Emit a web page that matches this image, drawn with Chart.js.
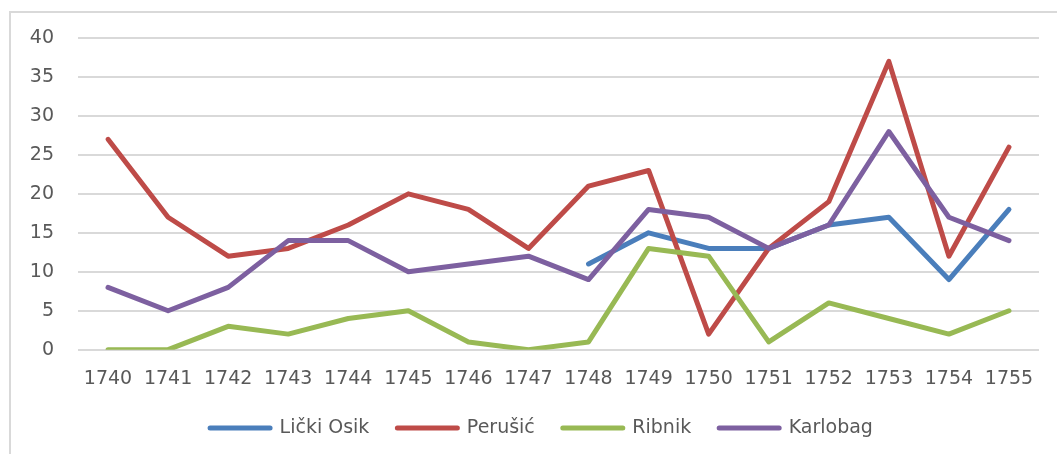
<!DOCTYPE html>
<html>
<head>
<meta charset="utf-8">
<script src="https://cdn.jsdelivr.net/npm/chart.js@4/dist/chart.umd.min.js"></script>
<style>
  html, body { margin: 0; padding: 0; background: #ffffff; }
  #wrap { width: 1057px; height: 454px; position: relative; }
</style>
</head>
<body>
<div id="wrap"><canvas id="c" width="1057" height="454"></canvas></div>
<script>
const years = ['1740','1741','1742','1743','1744','1745','1746','1747','1748','1749','1750','1751','1752','1753','1754','1755'];
const seriesNames = ['Lički Osik', 'Perušić', 'Ribnik', 'Karlobag'];
const lickiOsik = [null, null, null, null, null, null, null, null, 11, 15, 13, 13, 16, 17, 9, 18];
const perusic   = [27, 17, 12, 13, 16, 20, 18, 13, 21, 23, 2, 13, 19, 37, 12, 26];
const ribnik    = [0, 0, 3, 2, 4, 5, 1, 0, 1, 13, 12, 1, 6, 4, 2, 5];
const karlobag  = [8, 5, 8, 14, 14, 10, 11, 12, 9, 18, 17, 13, 16, 28, 17, 14];
const yTicks = [0, 5, 10, 15, 20, 25, 30, 35, 40];

const colors = ['#4a7ebb', '#be4b48', '#98b954', '#7d60a0'];
const FONT = 'DejaVu Sans';
const TEXT = '#595959';

const frame = {
  id: 'frame',
  beforeDraw(chart) {
    const ctx = chart.ctx;
    ctx.save();
    ctx.strokeStyle = '#d9d9d9';
    ctx.lineWidth = 2;
    ctx.beginPath();
    ctx.moveTo(10, 454);
    ctx.lineTo(10, 12);
    ctx.lineTo(1057, 12);
    ctx.stroke();
    ctx.restore();
  }
};

const legendShift = {
  id: 'legendShift',
  afterLayout(chart) {
    const lg = chart.legend;
    if (!lg) return;
    lg.top -= 18; lg.bottom -= 18;
    lg.left += 22; lg.right += 22;
  }
};

function ds(i, data) {
  return {
    label: seriesNames[i],
    data: data,
    borderColor: colors[i],
    backgroundColor: colors[i],
    borderWidth: 5,
    borderCapStyle: 'round',
    borderJoinStyle: 'round',
    pointRadius: 0,
    pointHoverRadius: 0,
    tension: 0,
    spanGaps: false,
    fill: false,
    order: 4 - i
  };
}

new Chart(document.getElementById('c'), {
  type: 'line',
  data: {
    labels: years,
    datasets: [ds(0, lickiOsik), ds(1, perusic), ds(2, ribnik), ds(3, karlobag)]
  },
  options: {
    responsive: false,
    animation: false,
    devicePixelRatio: 1,
    layout: { padding: { left: 0, right: 18, top: 38, bottom: -11.5 } },
    plugins: {
      tooltip: { enabled: false },
      legend: {
        position: 'bottom',
        labels: {
          usePointStyle: true,
          pointStyle: 'line',
          pointStyleWidth: 60,
          boxHeight: 5,
          padding: 28,
          color: TEXT,
          font: { family: FONT, size: 19 },
          sort: (a, b) => a.datasetIndex - b.datasetIndex,
          generateLabels(chart) {
            return chart.data.datasets.map((d, i) => ({
              text: d.label,
              fillStyle: d.borderColor,
              strokeStyle: d.borderColor,
              lineWidth: 5,
              lineCap: 'round',
              pointStyle: 'line',
              hidden: false,
              datasetIndex: i,
              fontColor: TEXT
            }));
          }
        }
      }
    },
    scales: {
      x: {
        offset: true,
        grid: { display: false, drawTicks: false },
        border: { display: false },
        ticks: { color: TEXT, font: { family: FONT, size: 19 }, padding: 18, maxRotation: 0, autoSkip: false }
      },
      y: {
        min: 0,
        max: 40,
        afterBuildTicks(scale) { scale.ticks = yTicks.map(v => ({ value: v })); },
        afterFit(scale) { scale.width = 78; },
        grid: { color: '#d9d9d9', lineWidth: 2, drawTicks: false },
        border: { display: false },
        ticks: { color: TEXT, font: { family: FONT, size: 19 }, padding: 24 }
      }
    }
  },
  plugins: [frame, legendShift]
});
</script>
</body>
</html>
